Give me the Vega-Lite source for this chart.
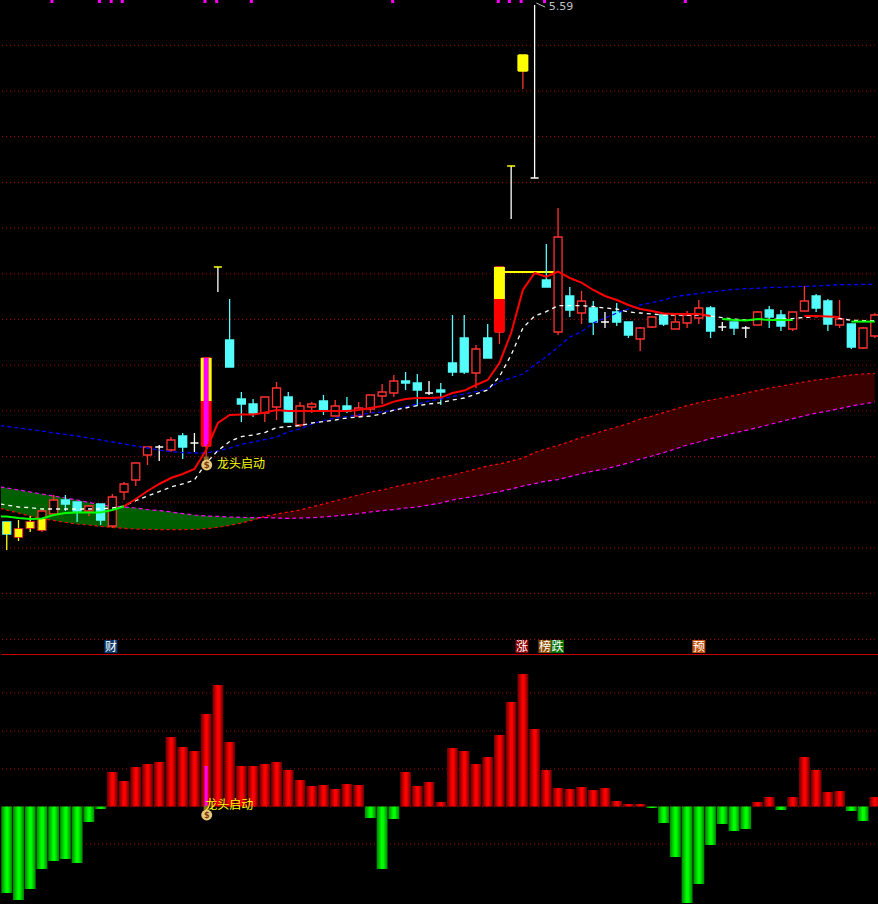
{"$schema":"https://vega.github.io/schema/vega-lite/v6.json","background":"#000000","padding":0,"spacing":0,"bounds":"flush","config":{"view":{"stroke":null},"scale":{"continuousPadding":0},"text":{"font":"Noto Sans CJK SC"}},
"datasets":{
"grid":[{"v":5.383},{"v":5.155},{"v":4.927},{"v":4.698},{"v":4.47},{"v":4.241},{"v":4.013},{"v":3.784},{"v":3.556},{"v":3.327},{"v":3.099},{"v":2.87},{"v":2.642},{"v":2.413}],
"candles":[
{"i":0,"o":3.0,"c":2.94,"h":3.0,"l":2.86,"t":"d","k":"y"},{"i":1,"o":2.925,"c":2.965,"h":3.01,"l":2.905,"t":"u","k":"y"},{"i":2,"o":2.97,"c":3.0,"h":3.03,"l":2.95,"t":"u","k":"y"},{"i":3,"o":2.96,"c":3.055,"h":3.055,"l":2.95,"t":"u","k":"u"},{"i":4,"o":3.04,"c":3.11,"h":3.135,"l":3.04,"t":"u","k":"u"},{"i":5,"o":3.11,"c":3.09,"h":3.135,"l":3.055,"t":"d","k":"d"},{"i":6,"o":3.1,"c":3.055,"h":3.1,"l":3.0,"t":"d","k":"d"},{"i":7,"o":3.055,"c":3.08,"h":3.085,"l":3.03,"t":"u","k":"u"},{"i":8,"o":3.09,"c":3.01,"h":3.09,"l":2.985,"t":"d","k":"d"},{"i":9,"o":2.98,"c":3.125,"h":3.14,"l":2.97,"t":"u","k":"u"},
{"i":10,"o":3.15,"c":3.19,"h":3.2,"l":3.11,"t":"u","k":"u"},{"i":11,"o":3.21,"c":3.295,"h":3.295,"l":3.18,"t":"u","k":"u"},{"i":12,"o":3.335,"c":3.375,"h":3.375,"l":3.285,"t":"u","k":"u"},{"i":13,"o":3.375,"c":3.375,"h":3.385,"l":3.305,"t":"w","k":"w"},{"i":14,"o":3.36,"c":3.41,"h":3.425,"l":3.35,"t":"u","k":"u"},{"i":15,"o":3.43,"c":3.375,"h":3.445,"l":3.315,"t":"d","k":"d"},{"i":16,"o":3.395,"c":3.395,"h":3.445,"l":3.35,"t":"w","k":"w"},{"i":17,"o":3.38,"c":3.82,"h":3.82,"l":3.31,"t":"u","k":"u"},{"i":18,"o":4.275,"c":4.275,"h":4.275,"l":4.15,"t":"y","k":"w"},{"i":19,"o":3.91,"c":3.775,"h":4.115,"l":3.775,"t":"d","k":"d"},
{"i":20,"o":3.615,"c":3.59,"h":3.65,"l":3.5,"t":"d","k":"d"},{"i":21,"o":3.59,"c":3.545,"h":3.615,"l":3.525,"t":"d","k":"d"},{"i":22,"o":3.545,"c":3.625,"h":3.625,"l":3.5,"t":"u","k":"u"},{"i":23,"o":3.575,"c":3.67,"h":3.7,"l":3.51,"t":"u","k":"u"},{"i":24,"o":3.625,"c":3.5,"h":3.65,"l":3.5,"t":"d","k":"d"},{"i":25,"o":3.485,"c":3.58,"h":3.6,"l":3.475,"t":"u","k":"u"},{"i":26,"o":3.575,"c":3.59,"h":3.6,"l":3.545,"t":"u","k":"u"},{"i":27,"o":3.605,"c":3.56,"h":3.635,"l":3.535,"t":"d","k":"d"},{"i":28,"o":3.53,"c":3.58,"h":3.61,"l":3.53,"t":"u","k":"u"},{"i":29,"o":3.58,"c":3.555,"h":3.625,"l":3.545,"t":"d","k":"d"},
{"i":30,"o":3.53,"c":3.57,"h":3.6,"l":3.53,"t":"u","k":"u"},{"i":31,"o":3.565,"c":3.635,"h":3.635,"l":3.545,"t":"u","k":"u"},{"i":32,"o":3.63,"c":3.65,"h":3.69,"l":3.59,"t":"u","k":"u"},{"i":33,"o":3.645,"c":3.705,"h":3.735,"l":3.625,"t":"u","k":"u"},{"i":34,"o":3.705,"c":3.695,"h":3.75,"l":3.66,"t":"d","k":"d"},{"i":35,"o":3.695,"c":3.66,"h":3.74,"l":3.58,"t":"d","k":"d"},{"i":36,"o":3.645,"c":3.645,"h":3.705,"l":3.635,"t":"w","k":"w"},{"i":37,"o":3.66,"c":3.65,"h":3.695,"l":3.585,"t":"d","k":"d"},{"i":38,"o":3.795,"c":3.75,"h":4.035,"l":3.73,"t":"d","k":"d"},{"i":39,"o":3.92,"c":3.75,"h":4.035,"l":3.74,"t":"d","k":"d"},
{"i":40,"o":3.745,"c":3.865,"h":3.885,"l":3.67,"t":"u","k":"u"},{"i":41,"o":3.92,"c":3.82,"h":3.99,"l":3.82,"t":"d","k":"d"},{"i":42,"o":3.95,"c":4.275,"h":4.275,"l":3.89,"t":"u","k":"u"},{"i":43,"o":4.78,"c":4.78,"h":4.78,"l":4.515,"t":"y","k":"w"},{"i":44,"o":5.335,"c":5.255,"h":5.335,"l":5.165,"t":"y","k":"u"},{"i":45,"o":4.72,"c":4.72,"h":5.585,"l":4.72,"t":"w","k":"w"},{"i":46,"o":4.21,"c":4.175,"h":4.39,"l":4.175,"t":"d","k":"d"},{"i":47,"o":3.95,"c":4.425,"h":4.57,"l":3.935,"t":"u","k":"u"},{"i":48,"o":4.13,"c":4.06,"h":4.175,"l":4.025,"t":"d","k":"d"},{"i":49,"o":4.045,"c":4.105,"h":4.155,"l":3.99,"t":"u","k":"u"},
{"i":50,"o":4.07,"c":4.0,"h":4.105,"l":3.935,"t":"d","k":"d"},{"i":51,"o":4.0,"c":4.0,"h":4.05,"l":3.97,"t":"w","k":"w"},{"i":52,"o":4.05,"c":4.0,"h":4.095,"l":3.98,"t":"d","k":"d"},{"i":53,"o":4.0,"c":3.935,"h":4.0,"l":3.92,"t":"d","k":"d"},{"i":54,"o":3.915,"c":3.97,"h":3.975,"l":3.855,"t":"u","k":"u"},{"i":55,"o":3.975,"c":4.025,"h":4.025,"l":3.97,"t":"u","k":"u"},{"i":56,"o":4.035,"c":3.99,"h":4.035,"l":3.98,"t":"d","k":"d"},{"i":57,"o":3.965,"c":4.0,"h":4.035,"l":3.965,"t":"u","k":"u"},{"i":58,"o":3.995,"c":4.035,"h":4.055,"l":3.97,"t":"u","k":"u"},{"i":59,"o":4.02,"c":4.07,"h":4.11,"l":3.99,"t":"u","k":"u"},
{"i":60,"o":4.07,"c":3.955,"h":4.08,"l":3.92,"t":"d","k":"d"},{"i":61,"o":3.975,"c":3.975,"h":4.0,"l":3.955,"t":"w","k":"w"},{"i":62,"o":4.0,"c":3.97,"h":4.0,"l":3.935,"t":"d","k":"d"},{"i":63,"o":3.97,"c":3.97,"h":3.98,"l":3.92,"t":"w","k":"w"},{"i":64,"o":3.985,"c":4.05,"h":4.055,"l":3.985,"t":"u","k":"u"},{"i":65,"o":4.06,"c":4.025,"h":4.08,"l":3.97,"t":"d","k":"d"},{"i":66,"o":4.035,"c":3.98,"h":4.06,"l":3.955,"t":"d","k":"d"},{"i":67,"o":3.965,"c":4.05,"h":4.05,"l":3.955,"t":"u","k":"u"},{"i":68,"o":4.055,"c":4.105,"h":4.18,"l":4.055,"t":"u","k":"u"},{"i":69,"o":4.13,"c":4.07,"h":4.14,"l":4.05,"t":"d","k":"d"},
{"i":70,"o":4.105,"c":3.99,"h":4.115,"l":3.955,"t":"d","k":"d"},{"i":71,"o":3.985,"c":4.015,"h":4.11,"l":3.97,"t":"u","k":"u"},{"i":72,"o":3.99,"c":3.875,"h":3.99,"l":3.865,"t":"d","k":"d"},{"i":73,"o":3.87,"c":3.97,"h":3.975,"l":3.865,"t":"u","k":"u"},{"i":74,"o":3.93,"c":4.035,"h":4.045,"l":3.92,"t":"u","k":"u"}],
"yellowBox":[{"i":0,"top":3.0,"bot":2.94},{"i":1,"top":2.965,"bot":2.925},{"i":2,"top":3.0,"bot":2.97},{"i":3,"top":3.015,"bot":2.96}],
"bigBars":[{"i":17,"top":3.82,"bot":3.605,"p":"y"},{"i":17,"top":3.605,"bot":3.38,"p":"r"},{"i":42,"top":4.275,"bot":4.115,"p":"y"},{"i":42,"top":4.115,"bot":3.95,"p":"r"},{"i":44,"top":5.335,"bot":5.255,"p":"y"}],
"ma":[{"i":-0.54,"v":3.027,"s":"g1"},{"i":0,"v":3.027,"s":"g1"},{"i":1,"v":3.02,"s":"g1"},{"i":2,"v":3.015,"s":"g1"},{"i":3,"v":3.018,"s":"g1"},{"i":4,"v":3.035,"s":"g1"},{"i":5,"v":3.045,"s":"g1"},{"i":6,"v":3.048,"s":"g1"},{"i":7,"v":3.048,"s":"g1"},{"i":8,"v":3.048,"s":"g1"},{"i":9,"v":3.06,"s":"g1"},{"i":10,"v":3.078,"s":"g1"},
{"i":10,"v":3.078,"s":"r1"},{"i":11,"v":3.115,"s":"r1"},{"i":12,"v":3.155,"s":"r1"},{"i":13,"v":3.19,"s":"r1"},{"i":14,"v":3.22,"s":"r1"},{"i":15,"v":3.24,"s":"r1"},{"i":16,"v":3.265,"s":"r1"},{"i":17,"v":3.36,"s":"r1"},{"i":18,"v":3.495,"s":"r1"},{"i":19,"v":3.535,"s":"r1"},{"i":20,"v":3.537,"s":"r1"},{"i":21,"v":3.537,"s":"r1"},{"i":22,"v":3.547,"s":"r1"},{"i":23,"v":3.56,"s":"r1"},{"i":24,"v":3.555,"s":"r1"},{"i":25,"v":3.555,"s":"r1"},{"i":26,"v":3.555,"s":"r1"},{"i":27,"v":3.555,"s":"r1"},{"i":28,"v":3.555,"s":"r1"},{"i":29,"v":3.555,"s":"r1"},{"i":30,"v":3.56,"s":"r1"},{"i":31,"v":3.57,"s":"r1"},{"i":32,"v":3.58,"s":"r1"},{"i":33,"v":3.602,"s":"r1"},{"i":34,"v":3.615,"s":"r1"},{"i":35,"v":3.62,"s":"r1"},{"i":36,"v":3.62,"s":"r1"},{"i":37,"v":3.622,"s":"r1"},{"i":38,"v":3.645,"s":"r1"},{"i":39,"v":3.657,"s":"r1"},{"i":40,"v":3.685,"s":"r1"},{"i":41,"v":3.71,"s":"r1"},{"i":42,"v":3.795,"s":"r1"},{"i":43,"v":3.945,"s":"r1"},{"i":44,"v":4.16,"s":"r1"},{"i":45,"v":4.245,"s":"r1"},{"i":46,"v":4.227,"s":"r1"},{"i":47,"v":4.252,"s":"r1"},{"i":48,"v":4.22,"s":"r1"},{"i":49,"v":4.197,"s":"r1"},{"i":50,"v":4.16,"s":"r1"},{"i":51,"v":4.13,"s":"r1"},{"i":52,"v":4.11,"s":"r1"},{"i":53,"v":4.085,"s":"r1"},{"i":54,"v":4.065,"s":"r1"},{"i":55,"v":4.055,"s":"r1"},{"i":56,"v":4.042,"s":"r1"},{"i":57,"v":4.04,"s":"r1"},{"i":58,"v":4.04,"s":"r1"},{"i":59,"v":4.04,"s":"r1"},{"i":60,"v":4.03,"s":"r1"},
{"i":61,"v":4.015,"s":"g2"},{"i":62,"v":4.01,"s":"g2"},{"i":63,"v":4.007,"s":"g2"},{"i":64,"v":4.015,"s":"g2"},{"i":65,"v":4.01,"s":"g2"},{"i":66,"v":4.01,"s":"g2"},{"i":67,"v":4.01,"s":"g2"},
{"i":68,"v":4.03,"s":"r2"},{"i":69,"v":4.03,"s":"r2"},{"i":70,"v":4.027,"s":"r2"},{"i":71,"v":4.025,"s":"r2"},
{"i":72,"v":4.002,"s":"g3"},{"i":73,"v":4.002,"s":"g3"},{"i":74,"v":4.002,"s":"g3"}],
"white":[{"i":-0.54,"v":3.09},{"i":0,"v":3.085},{"i":1,"v":3.075},{"i":2,"v":3.072},{"i":3,"v":3.065},{"i":4,"v":3.065},{"i":5,"v":3.065},{"i":6,"v":3.065},{"i":7,"v":3.065},{"i":8,"v":3.065},{"i":9,"v":3.07},{"i":10,"v":3.08},{"i":11,"v":3.107},{"i":12,"v":3.13},{"i":13,"v":3.152},{"i":14,"v":3.175},{"i":15,"v":3.19},{"i":16,"v":3.21},{"i":17,"v":3.295},{"i":18,"v":3.357},{"i":19,"v":3.402},{"i":20,"v":3.427},{"i":21,"v":3.435},{"i":22,"v":3.447},{"i":23,"v":3.472},{"i":24,"v":3.477},{"i":25,"v":3.482},{"i":26,"v":3.495},{"i":27,"v":3.502},{"i":28,"v":3.51},{"i":29,"v":3.52},{"i":30,"v":3.525},{"i":31,"v":3.53},{"i":32,"v":3.54},{"i":33,"v":3.56},{"i":34,"v":3.57},{"i":35,"v":3.582},{"i":36,"v":3.59},{"i":37,"v":3.597},{"i":38,"v":3.61},{"i":39,"v":3.62},{"i":40,"v":3.64},{"i":41,"v":3.66},{"i":42,"v":3.727},{"i":43,"v":3.835},{"i":44,"v":3.97},{"i":45,"v":4.03},{"i":46,"v":4.052},{"i":47,"v":4.082},{"i":48,"v":4.082},{"i":49,"v":4.082},{"i":50,"v":4.077},{"i":51,"v":4.07},{"i":52,"v":4.065},{"i":53,"v":4.05},{"i":54,"v":4.045},{"i":55,"v":4.04},{"i":56,"v":4.035},{"i":57,"v":4.035},{"i":58,"v":4.035},{"i":59,"v":4.035},{"i":60,"v":4.03},{"i":61,"v":4.022},{"i":62,"v":4.015},{"i":63,"v":4.01},{"i":64,"v":4.013},{"i":65,"v":4.013},{"i":66,"v":4.015},{"i":67,"v":4.017},{"i":68,"v":4.023},{"i":69,"v":4.027},{"i":70,"v":4.027},{"i":71,"v":4.018},{"i":72,"v":4.008},{"i":73,"v":4.007},{"i":74,"v":4.007}],
"blue":[{"i":-0.54,"v":3.482},{"i":0,"v":3.478},{"i":1,"v":3.47},{"i":2,"v":3.462},{"i":3,"v":3.455},{"i":4,"v":3.445},{"i":5,"v":3.438},{"i":6,"v":3.43},{"i":7,"v":3.42},{"i":8,"v":3.41},{"i":9,"v":3.4},{"i":10,"v":3.39},{"i":11,"v":3.38},{"i":12,"v":3.37},{"i":13,"v":3.36},{"i":14,"v":3.352},{"i":15,"v":3.347},{"i":16,"v":3.345},{"i":17,"v":3.345},{"i":18,"v":3.355},{"i":19,"v":3.37},{"i":20,"v":3.388},{"i":21,"v":3.4},{"i":22,"v":3.412},{"i":23,"v":3.425},{"i":24,"v":3.45},{"i":25,"v":3.465},{"i":26,"v":3.49},{"i":27,"v":3.507},{"i":28,"v":3.52},{"i":29,"v":3.527},{"i":30,"v":3.535},{"i":31,"v":3.545},{"i":32,"v":3.55},{"i":33,"v":3.56},{"i":34,"v":3.577},{"i":35,"v":3.59},{"i":36,"v":3.605},{"i":37,"v":3.615},{"i":38,"v":3.627},{"i":39,"v":3.64},{"i":40,"v":3.652},{"i":41,"v":3.665},{"i":42,"v":3.702},{"i":43,"v":3.72},{"i":44,"v":3.74},{"i":45,"v":3.785},{"i":46,"v":3.827},{"i":47,"v":3.875},{"i":48,"v":3.925},{"i":49,"v":3.952},{"i":50,"v":3.995},{"i":51,"v":4.02},{"i":52,"v":4.045},{"i":53,"v":4.065},{"i":54,"v":4.085},{"i":55,"v":4.097},{"i":56,"v":4.11},{"i":57,"v":4.127},{"i":58,"v":4.135},{"i":59,"v":4.143},{"i":60,"v":4.15},{"i":61,"v":4.157},{"i":62,"v":4.163},{"i":63,"v":4.167},{"i":64,"v":4.168},{"i":65,"v":4.173},{"i":66,"v":4.173},{"i":67,"v":4.177},{"i":68,"v":4.178},{"i":69,"v":4.18},{"i":70,"v":4.183},{"i":71,"v":4.187},{"i":72,"v":4.187},{"i":73,"v":4.188},{"i":74,"v":4.188}],
"ribbon":[{"i":-0.54,"a":3.175,"b":3.068},{"i":0,"a":3.17,"b":3.06},{"i":1,"a":3.16,"b":3.045},{"i":2,"a":3.15,"b":3.03},{"i":3,"a":3.14,"b":3.018},{"i":4,"a":3.13,"b":3.008},{"i":5,"a":3.12,"b":2.998},{"i":6,"a":3.11,"b":2.99},{"i":7,"a":3.098,"b":2.985},{"i":8,"a":3.085,"b":2.978},{"i":9,"a":3.08,"b":2.973},{"i":10,"a":3.075,"b":2.968},{"i":11,"a":3.07,"b":2.965},{"i":12,"a":3.062,"b":2.963},{"i":13,"a":3.057,"b":2.962},{"i":14,"a":3.05,"b":2.962},{"i":15,"a":3.042,"b":2.962},{"i":16,"a":3.035,"b":2.963},{"i":17,"a":3.03,"b":2.967},{"i":18,"a":3.028,"b":2.973},{"i":19,"a":3.025,"b":2.983},{"i":20,"a":3.023,"b":2.995},{"i":21,"a":3.022,"b":3.01},{"i":21.7,"a":3.022,"b":3.022},{"i":22,"a":3.022,"b":3.028},{"i":23,"a":3.02,"b":3.04},{"i":24,"a":3.018,"b":3.05},{"i":25,"a":3.02,"b":3.06},{"i":26,"a":3.022,"b":3.075},{"i":27,"a":3.025,"b":3.09},{"i":28,"a":3.03,"b":3.105},{"i":29,"a":3.036,"b":3.12},{"i":30,"a":3.042,"b":3.135},{"i":31,"a":3.05,"b":3.15},{"i":32,"a":3.057,"b":3.16},{"i":33,"a":3.062,"b":3.175},{"i":34,"a":3.07,"b":3.188},{"i":35,"a":3.075,"b":3.197},{"i":36,"a":3.085,"b":3.21},{"i":37,"a":3.095,"b":3.222},{"i":38,"a":3.11,"b":3.235},{"i":39,"a":3.12,"b":3.25},{"i":40,"a":3.13,"b":3.265},{"i":41,"a":3.14,"b":3.28},{"i":42,"a":3.152,"b":3.29},{"i":43,"a":3.165,"b":3.305},{"i":44,"a":3.18,"b":3.32},{"i":45,"a":3.192,"b":3.347},{"i":46,"a":3.205,"b":3.366},{"i":47,"a":3.212,"b":3.383},{"i":48,"a":3.227,"b":3.402},{"i":49,"a":3.242,"b":3.423},{"i":50,"a":3.255,"b":3.44},{"i":51,"a":3.265,"b":3.458},{"i":52,"a":3.28,"b":3.475},{"i":53,"a":3.295,"b":3.492},{"i":54,"a":3.315,"b":3.515},{"i":55,"a":3.33,"b":3.53},{"i":56,"a":3.347,"b":3.547},{"i":57,"a":3.365,"b":3.565},{"i":58,"a":3.385,"b":3.582},{"i":59,"a":3.4,"b":3.597},{"i":60,"a":3.417,"b":3.61},{"i":61,"a":3.43,"b":3.62},{"i":62,"a":3.445,"b":3.632},{"i":63,"a":3.458,"b":3.645},{"i":64,"a":3.472,"b":3.657},{"i":65,"a":3.487,"b":3.67},{"i":66,"a":3.502,"b":3.68},{"i":67,"a":3.517,"b":3.69},{"i":68,"a":3.531,"b":3.7},{"i":69,"a":3.545,"b":3.71},{"i":70,"a":3.555,"b":3.717},{"i":71,"a":3.567,"b":3.727},{"i":72,"a":3.58,"b":3.735},{"i":73,"a":3.59,"b":3.74},{"i":74,"a":3.6,"b":3.743}],
"flags":[{"i":3.85,"v":5.6025},{"i":7.9,"v":5.6025},{"i":8.9,"v":5.6025},{"i":9.85,"v":5.6025},{"i":16.9,"v":5.6025},{"i":17.9,"v":5.6025},{"i":20.85,"v":5.6025},{"i":32.9,"v":5.6025},{"i":41.9,"v":5.6025},{"i":42.85,"v":5.6025},{"i":43.85,"v":5.6025},{"i":45.85,"v":5.6025},{"i":57.85,"v":5.6025}],
"badges":[{"i":8.88,"v":2.3775,"txt":"财"},{"i":43.92,"v":2.3775,"txt":"涨"},{"i":45.88,"v":2.3775,"txt":"榜"},{"i":46.95,"v":2.3775,"txt":"跌"},{"i":59,"v":2.3775,"txt":"预"}],
"hline":[{"i":42,"v":4.25},{"i":47,"v":4.25}],
"leader":[{"i":45.15,"v":5.595},{"i":45.5,"v":5.585},{"i":45.9,"v":5.575}],
"hist":[{"i":0,"v":-0.865},{"i":1,"v":-0.935},{"i":2,"v":-0.825},{"i":3,"v":-0.625},{"i":4,"v":-0.545},{"i":5,"v":-0.525},{"i":6,"v":-0.565},{"i":7,"v":-0.155},{"i":8,"v":-0.025},{"i":9,"v":0.345},{"i":10,"v":0.255},{"i":11,"v":0.395},{"i":12,"v":0.425},{"i":13,"v":0.445},{"i":14,"v":0.695},{"i":15,"v":0.595},{"i":16,"v":0.555},{"i":17,"v":0.925},{"i":18,"v":1.215},{"i":19,"v":0.645},{"i":20,"v":0.405},{"i":21,"v":0.405},{"i":22,"v":0.425},{"i":23,"v":0.445},{"i":24,"v":0.365},{"i":25,"v":0.265},{"i":26,"v":0.205},{"i":27,"v":0.215},{"i":28,"v":0.175},{"i":29,"v":0.225},{"i":30,"v":0.215},{"i":31,"v":-0.115},{"i":32,"v":-0.625},{"i":33,"v":-0.125},{"i":34,"v":0.345},{"i":35,"v":0.205},{"i":36,"v":0.245},{"i":37,"v":0.045},{"i":38,"v":0.585},{"i":39,"v":0.555},{"i":40,"v":0.425},{"i":41,"v":0.495},{"i":42,"v":0.715},{"i":43,"v":1.045},{"i":44,"v":1.325},{"i":45,"v":0.775},{"i":46,"v":0.365},{"i":47,"v":0.185},{"i":48,"v":0.175},{"i":49,"v":0.195},{"i":50,"v":0.165},{"i":51,"v":0.185},{"i":52,"v":0.055},{"i":53,"v":0.025},{"i":54,"v":0.025},{"i":55,"v":-0.015},{"i":56,"v":-0.165},{"i":57,"v":-0.505},{"i":58,"v":-0.965},{"i":59,"v":-0.775},{"i":60,"v":-0.385},{"i":61,"v":-0.175},{"i":62,"v":-0.245},{"i":63,"v":-0.225},{"i":64,"v":0.045},{"i":65,"v":0.095},{"i":66,"v":-0.035},{"i":67,"v":0.095},{"i":68,"v":0.495},{"i":69,"v":0.365},{"i":70,"v":0.145},{"i":71,"v":0.155},{"i":72,"v":-0.045},{"i":73,"v":-0.145},{"i":74,"v":0.095}]
},
"vconcat":[
{"width":878,"height":654,"resolve":{"scale":{"color":"independent","fill":"independent","stroke":"independent"}},"layer":[
{"data":{"name":"grid"},"mark":{"type":"rule","color":"#A00000","strokeWidth":1,"strokeDash":[1,3]},"encoding":{"y":{"field":"v","type":"quantitative","axis":null,"scale":{"domain":[2.34,5.61],"nice":false,"zero":false}}}},
{"data":{"name":"ribbon"},"transform":[{"filter":"datum.i<=21.7"}],"mark":{"type":"area","color":"#006000","clip":true},"encoding":{"x":{"field":"i","type":"quantitative","axis":null,"scale":{"domain":[-0.49,74.36],"nice":false,"zero":false}},"y":{"field":"a","type":"quantitative","axis":null,"scale":{"domain":[2.34,5.61],"nice":false,"zero":false}},"y2":{"field":"b"}}},
{"data":{"name":"ribbon"},"transform":[{"filter":"datum.i>=21.7"}],"mark":{"type":"area","color":"#3A0000","clip":true},"encoding":{"x":{"field":"i","type":"quantitative","axis":null,"scale":{"domain":[-0.49,74.36],"nice":false,"zero":false}},"y":{"field":"a","type":"quantitative","axis":null,"scale":{"domain":[2.34,5.61],"nice":false,"zero":false}},"y2":{"field":"b"}}},
{"data":{"name":"ribbon"},"mark":{"type":"line","color":"#FF00FF","strokeWidth":1.2,"strokeDash":[4,3],"clip":true},"encoding":{"x":{"field":"i","type":"quantitative","axis":null,"scale":{"domain":[-0.49,74.36],"nice":false,"zero":false}},"y":{"field":"a","type":"quantitative","axis":null,"scale":{"domain":[2.34,5.61],"nice":false,"zero":false}}}},
{"data":{"name":"ribbon"},"mark":{"type":"line","color":"#FF0000","strokeWidth":1.2,"strokeDash":[3,3],"clip":true},"encoding":{"x":{"field":"i","type":"quantitative","axis":null,"scale":{"domain":[-0.49,74.36],"nice":false,"zero":false}},"y":{"field":"b","type":"quantitative","axis":null,"scale":{"domain":[2.34,5.61],"nice":false,"zero":false}}}},
{"data":{"name":"hline"},"mark":{"type":"line","color":"#FFFF00","strokeWidth":2,"clip":true},"encoding":{"x":{"field":"i","type":"quantitative","axis":null,"scale":{"domain":[-0.49,74.36],"nice":false,"zero":false}},"y":{"field":"v","type":"quantitative","axis":null,"scale":{"domain":[2.34,5.61],"nice":false,"zero":false}}}},
{"data":{"name":"candles"},"mark":{"type":"rule","strokeWidth":1.3,"clip":true},"encoding":{"x":{"field":"i","type":"quantitative","axis":null,"scale":{"domain":[-0.49,74.36],"nice":false,"zero":false}},"y":{"field":"h","type":"quantitative","axis":null,"scale":{"domain":[2.34,5.61],"nice":false,"zero":false}},"y2":{"field":"l"},"color":{"field":"k","type":"nominal","legend":null,"scale":{"domain":["u","d","w","y"],"range":["#FF3232","#54FCFC","#FFFFFF","#FFFF00"]}}}},
{"data":{"name":"candles"},"mark":{"type":"bar","size":8,"strokeWidth":1.3,"orient":"vertical","clip":true},"encoding":{"x":{"field":"i","type":"quantitative","axis":null,"scale":{"domain":[-0.49,74.36],"nice":false,"zero":false}},"y":{"field":"o","type":"quantitative","axis":null,"scale":{"domain":[2.34,5.61],"nice":false,"zero":false}},"y2":{"field":"c"},"fill":{"field":"t","type":"nominal","legend":null,"scale":{"domain":["u","d","w","y"],"range":["#000000","#54FCFC","#FFFFFF","#FFFF00"]}},"stroke":{"field":"t","type":"nominal","legend":null,"scale":{"domain":["u","d","w","y"],"range":["#FF3232","#54FCFC","#FFFFFF","#FFFF00"]}}}},
{"data":{"name":"yellowBox"},"mark":{"type":"bar","size":7,"color":"#FFFF00","orient":"vertical","clip":true},"encoding":{"x":{"field":"i","type":"quantitative","axis":null,"scale":{"domain":[-0.49,74.36],"nice":false,"zero":false}},"y":{"field":"top","type":"quantitative","axis":null,"scale":{"domain":[2.34,5.61],"nice":false,"zero":false}},"y2":{"field":"bot"}}},
{"data":{"name":"bigBars"},"mark":{"type":"bar","size":11,"orient":"vertical","clip":true},"encoding":{"x":{"field":"i","type":"quantitative","axis":null,"scale":{"domain":[-0.49,74.36],"nice":false,"zero":false}},"y":{"field":"top","type":"quantitative","axis":null,"scale":{"domain":[2.34,5.61],"nice":false,"zero":false}},"y2":{"field":"bot"},"color":{"field":"p","type":"nominal","legend":null,"scale":{"domain":["y","r"],"range":["#FFFF00","#FF0000"]}}}},
{"data":{"name":"bigBars"},"transform":[{"filter":"datum.i==17"}],"mark":{"type":"bar","size":5,"color":"#FF00FF","orient":"vertical","clip":true},"encoding":{"x":{"field":"i","type":"quantitative","axis":null,"scale":{"domain":[-0.49,74.36],"nice":false,"zero":false}},"y":{"field":"top","type":"quantitative","axis":null,"scale":{"domain":[2.34,5.61],"nice":false,"zero":false}},"y2":{"field":"bot"}}},
{"data":{"name":"blue"},"mark":{"type":"line","color":"#0000FF","strokeWidth":1.3,"strokeDash":[4,3],"clip":true},"encoding":{"x":{"field":"i","type":"quantitative","axis":null,"scale":{"domain":[-0.49,74.36],"nice":false,"zero":false}},"y":{"field":"v","type":"quantitative","axis":null,"scale":{"domain":[2.34,5.61],"nice":false,"zero":false}}}},
{"data":{"name":"white"},"mark":{"type":"line","color":"#FFFFFF","strokeWidth":1.3,"strokeDash":[4,4],"clip":true},"encoding":{"x":{"field":"i","type":"quantitative","axis":null,"scale":{"domain":[-0.49,74.36],"nice":false,"zero":false}},"y":{"field":"v","type":"quantitative","axis":null,"scale":{"domain":[2.34,5.61],"nice":false,"zero":false}}}},
{"data":{"name":"ma"},"mark":{"type":"line","strokeWidth":2,"clip":true},"encoding":{"x":{"field":"i","type":"quantitative","axis":null,"scale":{"domain":[-0.49,74.36],"nice":false,"zero":false}},"y":{"field":"v","type":"quantitative","axis":null,"scale":{"domain":[2.34,5.61],"nice":false,"zero":false}},"color":{"field":"s","type":"nominal","legend":null,"scale":{"domain":["g1","r1","g2","r2","g3"],"range":["#00FF00","#FF0000","#00FF00","#FF0000","#00FF00"]}}}},
{"data":{"name":"leader"},"mark":{"type":"line","color":"#C0C0C0","strokeWidth":1,"clip":true},"encoding":{"x":{"field":"i","type":"quantitative","axis":null,"scale":{"domain":[-0.49,74.36],"nice":false,"zero":false}},"y":{"field":"v","type":"quantitative","axis":null,"scale":{"domain":[2.34,5.61],"nice":false,"zero":false}}}},
{"data":{"values":[{"i":46.2,"v":5.575,"txt":"5.59"}]},"mark":{"type":"text","align":"left","baseline":"middle","font":"DejaVu Sans","fontSize":11,"color":"#C0C0C0"},"encoding":{"x":{"field":"i","type":"quantitative","axis":null,"scale":{"domain":[-0.49,74.36],"nice":false,"zero":false}},"y":{"field":"v","type":"quantitative","axis":null,"scale":{"domain":[2.34,5.61],"nice":false,"zero":false}},"text":{"field":"txt"}}},
{"data":{"name":"flags"},"mark":{"type":"point","shape":"square","size":9,"filled":true,"color":"#FF00FF","opacity":1},"encoding":{"x":{"field":"i","type":"quantitative","axis":null,"scale":{"domain":[-0.49,74.36],"nice":false,"zero":false}},"y":{"field":"v","type":"quantitative","axis":null,"scale":{"domain":[2.34,5.61],"nice":false,"zero":false}}}},
{"data":{"name":"badges"},"mark":{"type":"point","shape":"square","size":169,"filled":true,"opacity":1},"encoding":{"x":{"field":"i","type":"quantitative","axis":null,"scale":{"domain":[-0.49,74.36],"nice":false,"zero":false}},"y":{"field":"v","type":"quantitative","axis":null,"scale":{"domain":[2.34,5.61],"nice":false,"zero":false}},"color":{"field":"txt","type":"nominal","legend":null,"scale":{"domain":["财","涨","榜","跌","预"],"range":["#0A3A6E","#8B0000","#8B4A00","#007000","#C0500A"]}}}},
{"data":{"name":"badges"},"mark":{"type":"text","align":"center","baseline":"middle","fontSize":12,"color":"#FFFFFF","font":"Noto Sans CJK SC"},"encoding":{"x":{"field":"i","type":"quantitative","axis":null,"scale":{"domain":[-0.49,74.36],"nice":false,"zero":false}},"y":{"field":"v","type":"quantitative","axis":null,"scale":{"domain":[2.34,5.61],"nice":false,"zero":false}},"text":{"field":"txt"}}},
{"data":{"values":[{"i":17,"v":3.315}]},"mark":{"type":"point","shape":"square","size":25,"filled":true,"color":"#8A6A20","opacity":1},"encoding":{"x":{"field":"i","type":"quantitative","axis":null,"scale":{"domain":[-0.49,74.36],"nice":false,"zero":false}},"y":{"field":"v","type":"quantitative","axis":null,"scale":{"domain":[2.34,5.61],"nice":false,"zero":false}}}},
{"data":{"values":[{"i":17.05,"v":3.285,"txt":"$"}]},"mark":{"type":"point","shape":"circle","size":120,"filled":true,"color":"#E8C878","opacity":1},"encoding":{"x":{"field":"i","type":"quantitative","axis":null,"scale":{"domain":[-0.49,74.36],"nice":false,"zero":false}},"y":{"field":"v","type":"quantitative","axis":null,"scale":{"domain":[2.34,5.61],"nice":false,"zero":false}}}},
{"data":{"values":[{"i":17.05,"v":3.285,"txt":"$"}]},"mark":{"type":"text","align":"center","baseline":"middle","fontSize":9,"fontWeight":"bold","color":"#7A3A10","font":"DejaVu Sans"},"encoding":{"x":{"field":"i","type":"quantitative","axis":null,"scale":{"domain":[-0.49,74.36],"nice":false,"zero":false}},"y":{"field":"v","type":"quantitative","axis":null,"scale":{"domain":[2.34,5.61],"nice":false,"zero":false}},"text":{"field":"txt"}}},
{"data":{"values":[{"i":17.92,"v":3.29,"txt":"龙头启动"}]},"mark":{"type":"text","align":"left","baseline":"middle","fontSize":12,"color":"#FFFF00","font":"Noto Sans CJK SC"},"encoding":{"x":{"field":"i","type":"quantitative","axis":null,"scale":{"domain":[-0.49,74.36],"nice":false,"zero":false}},"y":{"field":"v","type":"quantitative","axis":null,"scale":{"domain":[2.34,5.61],"nice":false,"zero":false}},"text":{"field":"txt"}}}
]},
{"width":878,"height":250,"layer":[
{"data":{"values":[{"v":1.135},{"v":0.755},{"v":0.375},{"v":0},{"v":-0.375}]},"mark":{"type":"rule","color":"#A00000","strokeWidth":1,"strokeDash":[1,3]},"encoding":{"y":{"field":"v","type":"quantitative","axis":null,"scale":{"domain":[-0.975,1.525],"nice":false,"zero":false}}}},
{"data":{"values":[{"v":1.52}]},"mark":{"type":"rule","color":"#C80000","strokeWidth":1},"encoding":{"y":{"field":"v","type":"quantitative","axis":null,"scale":{"domain":[-0.975,1.525],"nice":false,"zero":false}}}},
{"data":{"name":"hist"},"transform":[{"filter":"datum.v>=0"}],"mark":{"type":"bar","size":11,"orient":"vertical","clip":true,"fill":{"gradient":"linear","x1":0,"y1":0,"x2":1,"y2":0,"stops":[{"offset":0,"color":"#600000"},{"offset":0.45,"color":"#FF0000"},{"offset":0.6,"color":"#FF0000"},{"offset":1,"color":"#600000"}]}},"encoding":{"x":{"field":"i","type":"quantitative","axis":null,"scale":{"domain":[-0.49,74.36],"nice":false,"zero":false}},"y":{"field":"v","type":"quantitative","axis":null,"scale":{"domain":[-0.975,1.525],"nice":false,"zero":false}},"y2":{"datum":0}}},
{"data":{"name":"hist"},"transform":[{"filter":"datum.v<0"}],"mark":{"type":"bar","size":11,"orient":"vertical","clip":true,"fill":{"gradient":"linear","x1":0,"y1":0,"x2":1,"y2":0,"stops":[{"offset":0,"color":"#008000"},{"offset":0.45,"color":"#00FF00"},{"offset":0.6,"color":"#00FF00"},{"offset":1,"color":"#008000"}]}},"encoding":{"x":{"field":"i","type":"quantitative","axis":null,"scale":{"domain":[-0.49,74.36],"nice":false,"zero":false}},"y":{"field":"v","type":"quantitative","axis":null,"scale":{"domain":[-0.975,1.525],"nice":false,"zero":false}},"y2":{"datum":0}}},
{"data":{"values":[{"i":17,"v":0.405}]},"mark":{"type":"bar","size":3,"color":"#FF00FF","orient":"vertical"},"encoding":{"x":{"field":"i","type":"quantitative","axis":null,"scale":{"domain":[-0.49,74.36],"nice":false,"zero":false}},"y":{"field":"v","type":"quantitative","axis":null,"scale":{"domain":[-0.975,1.525],"nice":false,"zero":false}},"y2":{"datum":0}}},
{"data":{"values":[{"i":17,"v":-0.015}]},"mark":{"type":"point","shape":"square","size":25,"filled":true,"color":"#8A6A20","opacity":1},"encoding":{"x":{"field":"i","type":"quantitative","axis":null,"scale":{"domain":[-0.49,74.36],"nice":false,"zero":false}},"y":{"field":"v","type":"quantitative","axis":null,"scale":{"domain":[-0.975,1.525],"nice":false,"zero":false}}}},
{"data":{"values":[{"i":17.05,"v":-0.085,"txt":"$"}]},"mark":{"type":"point","shape":"circle","size":120,"filled":true,"color":"#E8C878","opacity":1},"encoding":{"x":{"field":"i","type":"quantitative","axis":null,"scale":{"domain":[-0.49,74.36],"nice":false,"zero":false}},"y":{"field":"v","type":"quantitative","axis":null,"scale":{"domain":[-0.975,1.525],"nice":false,"zero":false}}}},
{"data":{"values":[{"i":17.05,"v":-0.095,"txt":"$"}]},"mark":{"type":"text","align":"center","baseline":"middle","fontSize":8,"fontWeight":"bold","color":"#7A3A10","font":"DejaVu Sans"},"encoding":{"x":{"field":"i","type":"quantitative","axis":null,"scale":{"domain":[-0.49,74.36],"nice":false,"zero":false}},"y":{"field":"v","type":"quantitative","axis":null,"scale":{"domain":[-0.975,1.525],"nice":false,"zero":false}},"text":{"field":"txt"}}},
{"data":{"values":[{"i":16.92,"v":0.015,"txt":"龙头启动"}]},"mark":{"type":"text","align":"left","baseline":"middle","fontSize":12,"color":"#FFFF00","font":"Noto Sans CJK SC"},"encoding":{"x":{"field":"i","type":"quantitative","axis":null,"scale":{"domain":[-0.49,74.36],"nice":false,"zero":false}},"y":{"field":"v","type":"quantitative","axis":null,"scale":{"domain":[-0.975,1.525],"nice":false,"zero":false}},"text":{"field":"txt"}}}
]}
]}
